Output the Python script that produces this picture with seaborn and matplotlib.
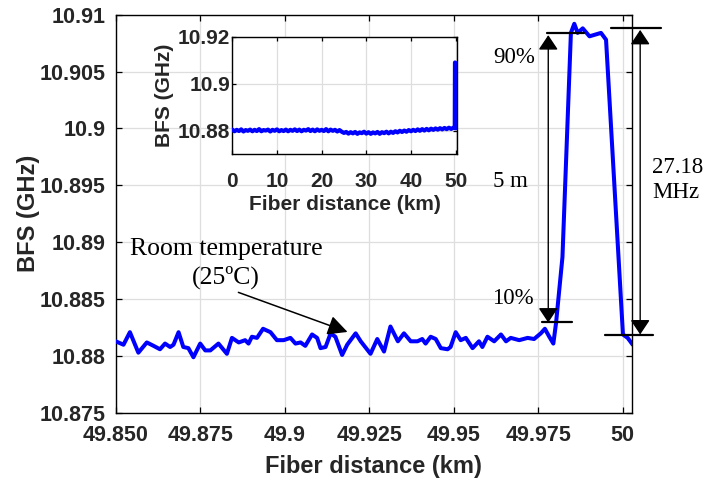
import numpy as np
import pandas as pd
import matplotlib
matplotlib.use("Agg")
import matplotlib.pyplot as plt
import seaborn as sns

# ---------------- data ----------------
main_km = [49.8500, 49.8523, 49.8542, 49.8567, 49.8592, 49.8612, 49.8631, 49.8646, 49.8661, 49.8671,
           49.8686, 49.8700, 49.8715, 49.8730, 49.8750, 49.8765, 49.8780, 49.8804, 49.8829, 49.8844,
           49.8864, 49.8883, 49.8893, 49.8903, 49.8918, 49.8936, 49.8958, 49.8977, 49.8997, 49.9017,
           49.9032, 49.9047, 49.9061, 49.9081, 49.9096, 49.9106, 49.9121, 49.9136, 49.9150, 49.9170,
           49.9185, 49.9210, 49.9225, 49.9254, 49.9274, 49.9294, 49.9313, 49.9335, 49.9353, 49.9373,
           49.9393, 49.9407, 49.9417, 49.9432, 49.9447, 49.9462, 49.9482, 49.9491, 49.9506, 49.9521,
           49.9536, 49.9556, 49.9575, 49.9585, 49.9600, 49.9620, 49.9640, 49.9655, 49.9669, 49.9694,
           49.9719, 49.9738, 49.9758, 49.9770, 49.9783, 49.9795, 49.9803, 49.9822, 49.9847, 49.9857,
           49.9867, 49.9882, 49.9902, 49.9936, 49.9951, 50.0001, 50.0015, 50.0030]
main_bfs = [10.8813, 10.8810, 10.8821, 10.8803, 10.8812, 10.8809, 10.8806, 10.8811, 10.8808, 10.8810,
            10.8821, 10.8808, 10.8807, 10.8799, 10.8811, 10.8805, 10.8805, 10.8811, 10.8802, 10.8816,
            10.8812, 10.8814, 10.8811, 10.8817, 10.8816, 10.8824, 10.8821, 10.8814, 10.8814, 10.8816,
            10.8811, 10.8812, 10.8809, 10.8819, 10.8816, 10.8807, 10.8808, 10.8820, 10.8817, 10.8801,
            10.8810, 10.8820, 10.8813, 10.8802, 10.8815, 10.8804, 10.8826, 10.8813, 10.8820, 10.8813,
            10.8813, 10.8815, 10.8811, 10.8817, 10.8815, 10.8807, 10.8806, 10.8808, 10.8821, 10.8814,
            10.8816, 10.8807, 10.8813, 10.8808, 10.8817, 10.8813, 10.8819, 10.8813, 10.8816, 10.8814,
            10.8816, 10.8815, 10.8820, 10.8824, 10.8817, 10.8811, 10.8829, 10.8887, 10.9084, 10.9092,
            10.9084, 10.9088, 10.9081, 10.9084, 10.9078, 10.8819, 10.8816, 10.8810]

inset_km = [0.0, 0.5, 1.0, 1.5, 2.0, 2.5, 3.0, 3.5, 4.0, 4.5, 5.0, 5.5, 6.0, 6.5, 7.0, 7.5, 8.0, 8.5,
            9.0, 9.5, 10.0, 10.5, 11.0, 11.5, 12.0, 12.5, 13.0, 13.5, 14.0, 14.5, 15.0, 15.5, 16.0, 16.5,
            17.0, 17.5, 18.0, 18.5, 19.0, 19.5, 20.0, 20.5, 21.0, 21.5, 22.0, 22.5, 23.0, 23.5, 24.0,
            24.5, 25.0, 25.5, 26.0, 26.5, 27.0, 27.5, 28.0, 28.5, 29.0, 29.5, 30.0, 30.5, 31.0, 31.5,
            32.0, 32.5, 33.0, 33.5, 34.0, 34.5, 35.0, 35.5, 36.0, 36.5, 37.0, 37.5, 38.0, 38.5, 39.0,
            39.5, 40.0, 40.5, 41.0, 41.5, 42.0, 42.5, 43.0, 43.5, 44.0, 44.5, 45.0, 45.5, 46.0, 46.5,
            47.0, 47.5, 48.0, 48.5, 49.0, 49.5, 49.8, 49.85, 50.0, 50.003]
inset_bfs = [10.8804, 10.8797, 10.8803, 10.8798, 10.8805, 10.8796, 10.8802, 10.8799, 10.8804, 10.8797,
             10.8803, 10.8798, 10.8806, 10.8797, 10.8802, 10.8800, 10.8804, 10.8796, 10.8803, 10.8799,
             10.8805, 10.8797, 10.8802, 10.8798, 10.8804,
             10.8797, 10.8803, 10.8799, 10.8805, 10.8798, 10.8804, 10.8797, 10.8803, 10.8800, 10.8806,
             10.8798, 10.8804, 10.8797, 10.8805, 10.8799, 10.8803, 10.8798, 10.8806, 10.8797, 10.8804,
             10.8799, 10.8803, 10.8796, 10.8802,
             10.8795, 10.8790, 10.8794, 10.8787, 10.8793, 10.8788, 10.8794, 10.8786, 10.8792, 10.8789,
             10.8795, 10.8787, 10.8793, 10.8786, 10.8792, 10.8788, 10.8794, 10.8786, 10.8793, 10.8789,
             10.8795, 10.8788,
             10.8795, 10.8790, 10.8797, 10.8792, 10.8799, 10.8794, 10.8800, 10.8795, 10.8802, 10.8797,
             10.8803, 10.8798, 10.8805, 10.8799, 10.8806, 10.8800, 10.8807, 10.8801, 10.8808, 10.8803,
             10.8809, 10.8804, 10.8810, 10.8805, 10.8811, 10.8806, 10.8812, 10.8807, 10.8812,
             10.8810, 10.9090, 10.9088, 10.8810]

main_xticks = [49.85, 49.875, 49.9, 49.925, 49.95, 49.975, 50.0]
main_xticklabels = ["49.850", "49.875", "49.9", "49.925", "49.95", "49.975", "50"]
main_yticks = [10.875, 10.88, 10.885, 10.89, 10.895, 10.9, 10.905, 10.91]
main_yticklabels = ["10.875", "10.88", "10.885", "10.89", "10.895", "10.9", "10.905", "10.91"]
inset_xticks = [0, 10, 20, 30, 40, 50]
inset_yticks = [10.88, 10.9, 10.92]
inset_yticklabels = ["10.88", "10.9", "10.92"]

# ---------------- style ----------------
sns.set_style("ticks")
plt.rcParams['font.family'] = ['Liberation Sans', 'DejaVu Sans']
plt.rcParams['axes.edgecolor'] = 'black'
plt.rcParams['axes.linewidth'] = 1.0
TXT = '#262626'
GRID = '#dedede'
SERIF = ['Liberation Serif', 'DejaVu Serif']

fig = plt.figure(figsize=(7.06, 4.88), dpi=100)
ax = fig.add_axes([0.1639, 0.1537, 0.7309, 0.8162])

df_main = pd.DataFrame({"km": main_km, "bfs": main_bfs})
sns.lineplot(data=df_main, x="km", y="bfs", ax=ax, color=(0, 0, 1), lw=2.9, sort=False, zorder=3)

ax.set_xlim(49.85, 50.0027)
ax.set_ylim(10.875, 10.91)
ax.set_xticks(main_xticks)
ax.set_xticklabels(main_xticklabels)
ax.set_yticks(main_yticks)
ax.set_yticklabels(main_yticklabels)
ax.grid(True, color=GRID, lw=0.9)
ax.set_axisbelow(True)
ax.tick_params(direction='in', top=True, right=True, length=4, width=0.9, colors='black',
               labelcolor=TXT, labelsize=15.5)
ax.tick_params(axis='x', pad=9)
ax.tick_params(axis='y', pad=7)
for lab in ax.get_xticklabels() + ax.get_yticklabels():
    lab.set_fontweight('bold')
ax.set_xlabel("Fiber distance (km)", fontsize=17, fontweight='bold', color=TXT, labelpad=6)
ax.set_ylabel("BFS (GHz)", fontsize=17, fontweight='bold', color=TXT, labelpad=0)

# ---------------- annotations ----------------
hd = dict(arrowstyle='<|-|>,head_length=0.45,head_width=0.3', color='black', lw=1.0,
          mutation_scale=20, shrinkA=0, shrinkB=0)
ax.annotate("", xy=(49.9780, 10.9082), xytext=(49.9780, 10.88295), arrowprops=hd,
            annotation_clip=False)
ax.annotate("", xy=(50.0052, 10.90866), xytext=(50.0052, 10.8819), arrowprops=hd,
            annotation_clip=False)
ax.plot([49.97763, 49.98867], [10.9084, 10.9084], color='black', lw=1.6, clip_on=False, zorder=4)
ax.plot([49.9760, 49.9849], [10.88297, 10.88297], color='black', lw=1.6, clip_on=False, zorder=4)
ax.plot([49.99659, 50.01141], [10.9088, 10.9088], color='black', lw=1.6, clip_on=False, zorder=4)
ax.plot([49.99481, 50.00913], [10.88186, 10.88186], color='black', lw=1.6, clip_on=False, zorder=4)

ax.text(49.9678, 10.9062, "90%", family=SERIF, fontsize=16.5, ha='center', va='center', color='black')
ax.text(49.9669, 10.8953, "5 m", family=SERIF, fontsize=16.5, ha='center', va='center', color='black')
ax.text(49.9675, 10.8851, "10%", family=SERIF, fontsize=16.5, ha='center', va='center', color='black')
ax.text(50.0087, 10.8955, "27.18\nMHz", family=SERIF, fontsize=16.5, ha='left', va='center',
        color='black', clip_on=False, linespacing=1.25)
ax.text(49.8827, 10.88814, "Room temperature\n(25ºC)", family=SERIF, fontsize=18.5,
        ha='center', va='center', color='black', linespacing=1.3)
ax.annotate("", xy=(49.9186, 10.88212), xytext=(49.8863, 10.8856),
            arrowprops=dict(arrowstyle='-|>,head_length=0.6,head_width=0.3', color='black',
                            lw=1.1, mutation_scale=20, shrinkA=0, shrinkB=0))

# ---------------- inset ----------------
ax2 = fig.add_axes([0.3290, 0.6844, 0.3183, 0.2404])
ax2.set_facecolor('white')
df_in = pd.DataFrame({"km": inset_km, "bfs": inset_bfs})
sns.lineplot(data=df_in, x="km", y="bfs", ax=ax2, color=(0, 0, 1), lw=3.0, sort=False, zorder=3)
ax2.set_xlim(0, 50.3)
ax2.set_ylim(10.87, 10.92)
ax2.set_xticks(inset_xticks)
ax2.set_yticks(inset_yticks)
ax2.set_yticklabels(inset_yticklabels)
ax2.grid(True, color=GRID, lw=0.9)
ax2.set_axisbelow(True)
ax2.tick_params(direction='in', top=True, right=True, length=3, width=0.9, colors='black',
                labelcolor=TXT, labelsize=15)
ax2.tick_params(axis='x', pad=13)
ax2.tick_params(axis='y', pad=1.5)
for lab in ax2.get_xticklabels() + ax2.get_yticklabels():
    lab.set_fontweight('bold')
ax2.set_xlabel("Fiber distance (km)", fontsize=15, fontweight='bold', color=TXT, labelpad=3)
ax2.set_ylabel("BFS (GHz)", fontsize=15, fontweight='bold', color=TXT, labelpad=3)

fig.savefig("out.png", dpi=100)
